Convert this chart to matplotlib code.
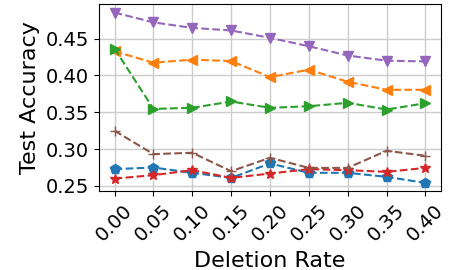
import matplotlib
matplotlib.use("Agg")
import matplotlib.pyplot as plt

rates = [0.00, 0.05, 0.10, 0.15, 0.20, 0.25, 0.30, 0.35, 0.40]
tick_labels = ["0.00", "0.05", "0.10", "0.15", "0.20", "0.25", "0.30", "0.35", "0.40"]

blue = [0.2728, 0.2750, 0.2678, 0.2609, 0.2805, 0.2678, 0.2678, 0.2623, 0.2541]
orange = [0.4327, 0.4173, 0.4214, 0.4195, 0.3977, 0.4078, 0.3914, 0.3805, 0.3805]
green = [0.4364, 0.3546, 0.3560, 0.3646, 0.3560, 0.3582, 0.3628, 0.3537, 0.3623]
red = [0.2600, 0.2646, 0.2714, 0.2609, 0.2668, 0.2728, 0.2714, 0.2691, 0.2745]
purple = [0.4853, 0.4720, 0.4645, 0.4610, 0.4510, 0.4396, 0.4270, 0.4200, 0.4190]
brown = [0.3249, 0.2932, 0.2950, 0.2700, 0.2882, 0.2745, 0.2745, 0.2977, 0.2909]

fig, ax = plt.subplots(figsize=(4.5, 2.7), dpi=100)
series = [
    (blue, "tab:blue", "p"),
    (orange, "tab:orange", "<"),
    (green, "tab:green", ">"),
    (red, "tab:red", "*"),
    (purple, "tab:purple", "v"),
    (brown, "tab:brown", "+"),
]
for vals, col, mk in series:
    ax.plot(rates, vals, linestyle="--", color=col, marker=mk, markersize=7)

ax.set_xticks(rates)
ax.set_xticklabels(tick_labels, rotation=45, fontsize=14)
ax.set_yticks([0.25, 0.30, 0.35, 0.40, 0.45])
ax.set_yticklabels(["0.25", "0.30", "0.35", "0.40", "0.45"], fontsize=14)
ax.set_xlabel("Deletion Rate", fontsize=16)
ax.set_ylabel("Test Accuracy", fontsize=16)
ax.grid(True, color="#cccccc", linewidth=1)
fig.subplots_adjust(left=0.22, right=0.98, top=0.985, bottom=0.291)
fig.savefig("out.png", dpi=100)
